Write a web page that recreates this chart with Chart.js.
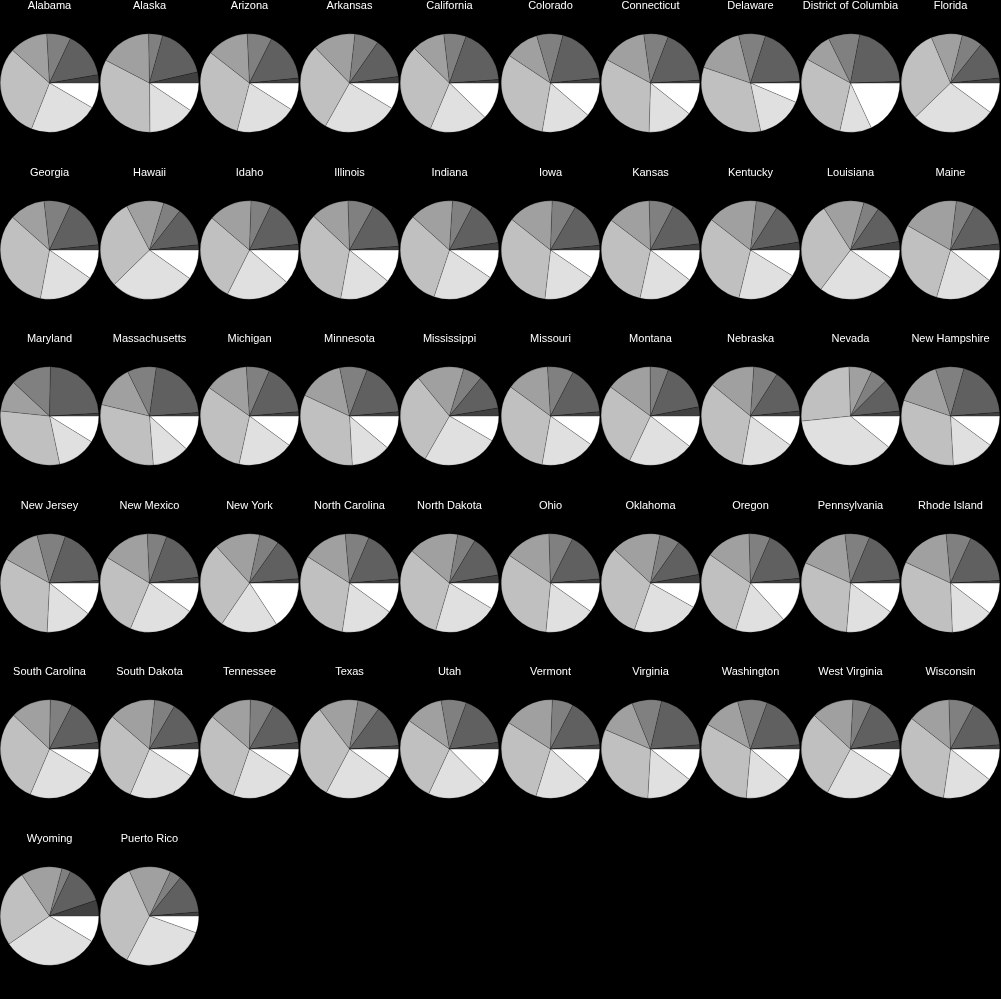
<!DOCTYPE html>
<html lang="en">
<head>
  <meta charset="UTF-8" />
  <title>Pies by state</title>
  <style>
    html, body { margin: 0; padding: 0; background: #000; }
    body { width: 1001px; height: 999px; position: relative; overflow: hidden; }
    canvas.pie { position: absolute; }
  </style>
</head>
<body>
  <script src="https://cdn.jsdelivr.net/npm/chart.js"></script>
  <script>
    const states = ['Alabama', 'Alaska', 'Arizona', 'Arkansas', 'California', 'Colorado', 'Connecticut', 'Delaware', 'District of Columbia', 'Florida',
      'Georgia', 'Hawaii', 'Idaho', 'Illinois', 'Indiana', 'Iowa', 'Kansas', 'Kentucky', 'Louisiana', 'Maine',
      'Maryland', 'Massachusetts', 'Michigan', 'Minnesota', 'Mississippi', 'Missouri', 'Montana', 'Nebraska', 'Nevada', 'New Hampshire',
      'New Jersey', 'New Mexico', 'New York', 'North Carolina', 'North Dakota', 'Ohio', 'Oklahoma', 'Oregon', 'Pennsylvania', 'Rhode Island',
      'South Carolina', 'South Dakota', 'Tennessee', 'Texas', 'Utah', 'Vermont', 'Virginia', 'Washington', 'West Virginia', 'Wisconsin',
      'Wyoming', 'Puerto Rico'];

    // share of each slice (%), slices clockwise from 3 o'clock
    const groupA = [8.4, 9.4, 9.0, 8.6, 12.3, 11.3, 10.7, 6.4, 18.1, 10.1,
      9.7, 9.8, 11.4, 10.9, 9.5, 9.5, 10.4, 8.8, 9.7, 10.6,
      8.8, 11.6, 10.1, 11.1, 8.4, 9.8, 10.5, 10.1, 10.9, 10.1,
      10.7, 9.8, 15.8, 10.0, 8.7, 9.8, 8.2, 13.3, 10.0, 10.4,
      8.6, 9.2, 9.2, 10.0, 12.5, 11.7, 10.6, 11.1, 9.2, 10.6,
      8.6, 5.5];
    const groupB = [22.6, 15.5, 20.0, 24.5, 19.1, 16.4, 14.8, 15.3, 10.4, 27.6,
      18.3, 27.9, 21.0, 17.0, 20.6, 17.3, 18.0, 20.0, 25.6, 19.0,
      12.9, 12.2, 18.3, 13.0, 24.8, 18.0, 21.5, 17.7, 37.5, 14.0,
      15.1, 21.5, 18.7, 17.4, 20.8, 16.7, 22.1, 16.6, 16.3, 14.0,
      22.8, 22.2, 21.1, 22.8, 19.4, 18.1, 15.3, 15.3, 23.6, 16.7,
      31.8, 27.1];
    const groupC = [30.6, 32.8, 31.5, 29.6, 31.1, 31.6, 32.4, 33.5, 29.5, 30.9,
      33.6, 29.7, 28.9, 34.2, 31.6, 33.8, 31.9, 31.7, 30.7, 28.7,
      30.0, 30.0, 31.3, 32.8, 30.8, 32.3, 28.0, 33.1, 26.2, 31.1,
      32.3, 27.3, 28.8, 31.6, 31.7, 32.9, 31.6, 29.9, 30.4, 32.5,
      30.6, 30.0, 31.1, 31.9, 27.8, 29.2, 30.6, 31.9, 29.2, 33.3,
      25.2, 35.7];
    const groupD = [12.6, 17.1, 13.7, 14.0, 10.8, 11.1, 15.0, 16.0, 9.7, 10.2,
      11.7, 12.3, 14.3, 12.5, 14.3, 14.9, 14.2, 16.4, 13.4, 18.7,
      10.3, 14.0, 14.2, 14.9, 15.6, 14.0, 14.9, 15.2, 7.6, 14.9,
      12.9, 15.6, 15.0, 14.7, 16.4, 15.1, 16.2, 14.8, 16.5, 16.7,
      13.3, 15.3, 13.9, 13.1, 12.5, 16.7, 12.5, 12.5, 13.9, 13.9,
      13.5, 13.7];
    const groupE = [7.9, 4.6, 8.1, 7.9, 7.3, 8.6, 8.0, 8.8, 10.3, 6.8,
      8.7, 5.8, 6.6, 8.5, 6.7, 7.8, 8.1, 7.0, 5.1, 6.1,
      13.4, 9.5, 7.6, 9.0, 6.3, 8.6, 6.0, 7.9, 5.4, 9.3,
      9.3, 6.4, 6.5, 7.8, 5.9, 7.9, 6.6, 7.0, 8.1, 8.2,
      7.2, 6.7, 7.8, 7.2, 8.3, 6.9, 9.7, 9.7, 6.1, 8.3,
      2.9, 3.8];
    const groupF = [15.3, 17.1, 16.0, 13.2, 18.5, 19.3, 18.3, 19.6, 21.5, 12.7,
      16.4, 12.8, 16.0, 15.8, 14.9, 15.1, 15.3, 13.5, 12.7, 15.0,
      23.8, 21.7, 17.0, 17.8, 11.4, 16.0, 16.1, 14.4, 10.9, 19.4,
      19.0, 17.4, 13.8, 17.3, 13.8, 16.3, 12.5, 17.0, 17.6, 17.4,
      15.3, 14.4, 14.7, 13.9, 17.2, 16.1, 20.0, 18.1, 15.3, 15.8,
      12.8, 12.9];
    const groupG = [2.7, 3.6, 1.6, 2.1, 1.1, 1.6, 0.9, 0.5, 0.5, 1.6,
      1.7, 1.7, 1.9, 1.2, 2.4, 1.5, 2.0, 2.6, 2.8, 2.0,
      0.9, 1.1, 1.4, 1.4, 2.6, 1.4, 3.0, 1.6, 1.6, 1.2,
      0.8, 1.9, 1.4, 1.3, 2.6, 1.3, 2.8, 1.5, 1.1, 0.8,
      2.2, 2.2, 2.2, 1.1, 2.2, 1.4, 1.4, 1.4, 2.8, 1.4,
      5.2, 1.3];

    const groupLabels = ['A', 'B', 'C', 'D', 'E', 'F', 'G'];
    const groups = [groupA, groupB, groupC, groupD, groupE, groupF, groupG];
    const colors = ['#ffffff', '#e0e0e0', '#c0c0c0', '#a0a0a0', '#808080', '#606060', '#404040'];

    Chart.defaults.font.family = "'Liberation Sans', Arial, sans-serif";

    states.forEach((name, i) => {
      const canvas = document.createElement('canvas');
      canvas.className = 'pie';
      canvas.width = 100;
      canvas.height = 166;
      canvas.style.left = Math.round((i % 10) * 100.1) + 'px';
      canvas.style.top = Math.round(Math.floor(i / 10) * 166.5) + 'px';
      document.body.appendChild(canvas);

      new Chart(canvas, {
        type: 'pie',
        data: {
          labels: groupLabels,
          datasets: [{
            data: groups.map(g => g[i]),
            backgroundColor: colors,
            borderColor: 'rgba(0, 0, 0, 0.35)',
            borderWidth: 0.5
          }]
        },
        options: {
          responsive: false,
          animation: false,
          rotation: 90,
          layout: { padding: { top: 0, bottom: 33, left: 0, right: 1 } },
          plugins: {
            legend: { display: false },
            tooltip: { enabled: false },
            title: {
              display: true,
              text: name,
              color: '#ffffff',
              font: { size: 11, weight: 'normal', lineHeight: 1 },
              padding: { top: 0, bottom: 22 }
            }
          }
        }
      });
    });
  </script>
</body>
</html>
